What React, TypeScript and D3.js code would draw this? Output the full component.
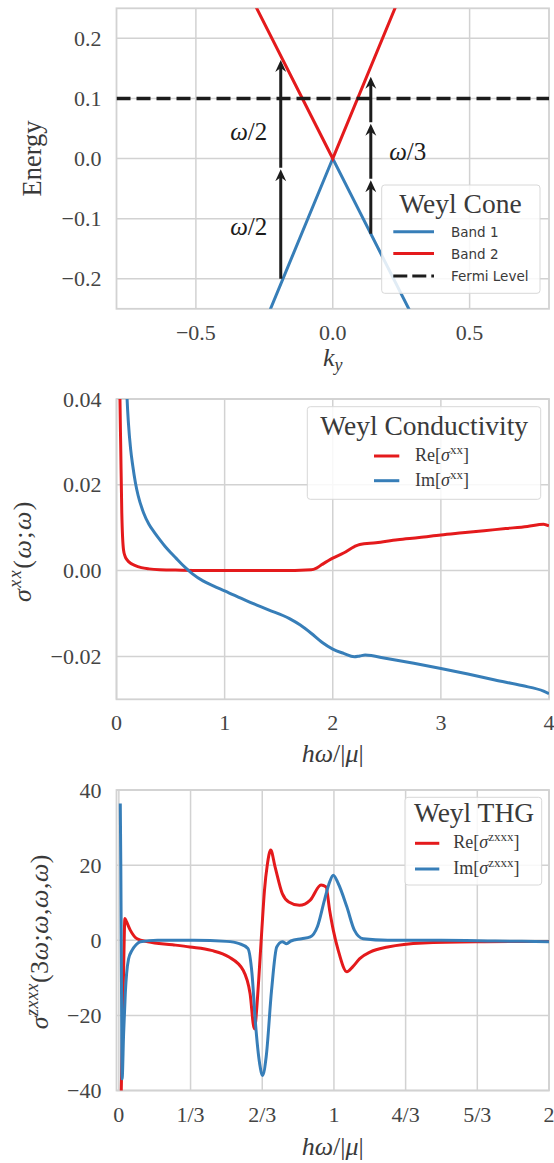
import React from 'react';
import * as d3 from 'd3';

const W = 554;
const H = 1163;
const RED = '#e41a1c';
const BLUE = '#377eb8';
const INK = '#1c1c1c';
const GRID = '#d2d2d2';
const TXT = '#3a3a3a';
const SERIF = '"Liberation Serif", "Times New Roman", serif';
const SANS = '"DejaVu Sans", sans-serif';

// ---- panel 1: Weyl cone (k_y vs energy)
const coneK = [-0.8, 0, 0.8];
const band1E = [-0.88, 0, -0.72];
const band2E = [0.72, 0, 0.88];
const fermiE = 0.1;
const arrowLeftK = -0.19;
const arrowLeftE = [-0.2, -0.018, 0.164];
const arrowRightK = 0.139;
const arrowRightE = [-0.125, -0.036, 0.058, 0.136];
const omegaLabelK = [-0.307, -0.307, 0.274];
const omegaLabelE = [0.043, -0.115, 0.01];
const omegaLabelDen = ['2', '2', '3'];
const coneXTicks = [-0.5, 0, 0.5];
const coneYTicks = [-0.2, -0.1, 0, 0.1, 0.2];

// ---- panel 2: linear conductivity
const sigReX = [0.03, 0.032, 0.039, 0.049, 0.065, 0.08, 0.098, 0.13, 0.163, 0.23, 0.3, 0.4, 0.6, 1.0, 1.5, 1.8,
  1.85, 1.9, 2.0, 2.1, 2.2, 2.25, 2.4, 2.6, 2.8, 3.0, 3.2, 3.4, 3.6, 3.8, 3.95, 4.0];
const sigReY = [0.045, 0.04, 0.029, 0.0134, 0.0048, 0.0033, 0.0025, 0.0017, 0.0013, 0.0007, 0.0004, 0.0002, 0.0001,
  0.0, 0.0, 0.0002, 0.0006, 0.0014, 0.0029, 0.0041, 0.0056, 0.0061, 0.0065, 0.0072, 0.0077, 0.0083, 0.0088,
  0.0093, 0.0098, 0.0103, 0.0108, 0.0104];
const sigImX = [0.085, 0.098, 0.11, 0.13, 0.15, 0.175, 0.2, 0.25, 0.3, 0.35, 0.4, 0.45, 0.5, 0.55, 0.6, 0.65, 0.7,
  0.8, 0.9, 1.0, 1.2, 1.4, 1.6, 1.7, 1.8, 1.9, 2.0, 2.1, 2.2, 2.25, 2.3, 2.5, 2.75, 3.0, 3.25, 3.5, 3.75, 3.95, 4.0];
const sigImY = [0.05, 0.04, 0.0345, 0.0285, 0.0245, 0.0205, 0.0175, 0.0135, 0.0108, 0.0089, 0.0072, 0.0056, 0.0042,
  0.0029, 0.0016, 0.0004, -0.0007, -0.0024, -0.0036, -0.0047, -0.007, -0.0091, -0.0112, -0.0127, -0.0146, -0.0167,
  -0.0183, -0.0193, -0.0201, -0.0199, -0.0197, -0.0205, -0.0216, -0.0228, -0.0241, -0.0255, -0.0268, -0.0281,
  -0.0287];
const sigXTicks = [0, 1, 2, 3, 4];
const sigYTicks = [-0.02, 0, 0.02, 0.04];

// ---- panel 3: third harmonic generation
const thgReX = [0.011, 0.018, 0.023, 0.028, 0.035, 0.053, 0.085, 0.135, 0.25, 0.33, 0.43, 0.51, 0.578, 0.61, 0.63,
  0.645, 0.652, 0.665, 0.677, 0.69, 0.706, 0.726, 0.76, 0.79, 0.84, 0.89, 0.94, 0.963, 0.98, 0.997, 1.02, 1.06,
  1.087, 1.12, 1.17, 1.25, 1.415, 1.7, 2.0];
const thgReY = [-40.5, -20, -5, 5.8, 5, 2.7, 0.4, -0.4, -1.2, -1.8, -2.7, -4.4, -8, -14.2, -23.6, -15, -8.9, 3, 13.3,
  20, 24, 19.6, 12.4, 10.2, 9.3, 10.7, 14.7, 14.2, 8, 2.7, -2.7, -8.4, -7.1, -4.9, -3.1, -1.8, -0.7, -0.4, -0.3];
const thgImX = [0.0066, 0.009, 0.012, 0.015, 0.022, 0.03, 0.036, 0.045, 0.061, 0.08, 0.1, 0.18, 0.35, 0.5, 0.56,
  0.6, 0.619, 0.635, 0.655, 0.668, 0.685, 0.71, 0.734, 0.76, 0.78, 0.8, 0.85, 0.89, 0.923, 0.956, 0.98, 0.997,
  1.02, 1.06, 1.095, 1.136, 1.25, 1.5, 1.75, 2.0];
const thgImY = [36.4, 20, -10, -36.9, -25, -14, -8.9, -5, -2.7, -1.2, -0.4, 0, 0, -0.3, -0.9, -2.2, -8.9, -22, -33,
  -36, -31, -13.3, -1.8, -0.4, -0.9, -0.2, 0.4, 0.9, 3.6, 10.7, 15.5, 17.3, 15.1, 8.9, 2.7, 0.4, 0, 0, -0.2, -0.4];
const thgXTicks = [0, 1 / 3, 2 / 3, 1, 4 / 3, 5 / 3, 2];
const thgXTickLabels = ['0', '1/3', '2/3', '1', '4/3', '5/3', '2'];
const thgYTicks = [-40, -20, 0, 20, 40];

const LEFT = 116.5;
const RIGHT = 549;

function Frame({ xs, ys, xTicks, xLabels, yTicks, yLabels, xTickY }: any) {
  const [x0, x1] = xs.range();
  const [yb, yt] = ys.range();
  return (
    <g>
      {xTicks.map((t: number, i: number) => (
        <line key={'gx' + i} x1={xs(t)} x2={xs(t)} y1={yt} y2={yb} stroke={GRID} strokeWidth={1.5} />
      ))}
      {yTicks.map((t: number, i: number) => (
        <line key={'gy' + i} x1={x0} x2={x1} y1={ys(t)} y2={ys(t)} stroke={GRID} strokeWidth={1.5} />
      ))}
      <rect x={x0} y={yt} width={x1 - x0} height={yb - yt} fill="none" stroke={GRID} strokeWidth={1.8} />
      {xTicks.map((t: number, i: number) => (
        <text key={'lx' + i} x={xs(t)} y={xTickY} textAnchor="middle" fontFamily={SERIF} fontSize={22} fill="#444">
          {xLabels[i]}
        </text>
      ))}
      {yTicks.map((t: number, i: number) => (
        <text key={'ly' + i} x={101.5} y={ys(t) + 7.5} textAnchor="end" fontFamily={SERIF} fontSize={22} fill="#444">
          {yLabels[i]}
        </text>
      ))}
    </g>
  );
}

function Legend({ box, title, titleX, titleY, lineX, textX, rows, labelFont, labelSize }: any) {
  return (
    <g>
      <rect x={box[0]} y={box[1]} width={box[2] - box[0]} height={box[3] - box[1]} rx={3}
        fill="#ffffff" fillOpacity={0.85} stroke="#d8d8d8" strokeWidth={1} />
      <text x={titleX} y={titleY} textAnchor="middle" fontFamily={SERIF} fontSize={27.5} fill={TXT}>{title}</text>
      {rows.map((r: any, i: number) => (
        <g key={i}>
          <line x1={lineX[0]} x2={lineX[1]} y1={r.y} y2={r.y} stroke={r.color} strokeWidth={3}
            strokeDasharray={r.dash || null} />
          <text x={textX} y={r.y + 5} fontFamily={labelFont} fontSize={labelSize} fill={TXT}>{r.label}</text>
        </g>
      ))}
    </g>
  );
}

function sigmaLegendLabel(part: string, sup: string) {
  return (
    <>
      <tspan>{part}[</tspan>
      <tspan fontStyle="italic">σ</tspan>
      <tspan dy={-7} fontSize={13}>{sup}</tspan>
      <tspan dy={7}>]</tspan>
    </>
  );
}

function arrowHead(x: number, y: number) {
  return `M${x},${y} L${x - 5.5},${y + 12} L${x},${y + 8} L${x + 5.5},${y + 12} Z`;
}

function ArrowChain({ xs, ys, k, es }: any) {
  const x = xs(k);
  const segs = [];
  for (let i = 0; i < es.length - 1; i++) {
    const ya = ys(es[i]);
    const yb = ys(es[i + 1]);
    segs.push(
      <g key={i}>
        <line x1={x} x2={x} y1={i === 0 ? ya : ya - 1.5} y2={yb + 6} stroke={INK} strokeWidth={3} />
        <path d={arrowHead(x, yb)} fill={INK} />
      </g>
    );
  }
  return <g>{segs}</g>;
}

export default function App() {
  // panel 1 scales
  const x1s = d3.scaleLinear().domain([-0.79, 0.79]).range([LEFT, RIGHT]);
  const y1s = d3.scaleLinear().domain([-0.25, 0.25]).range([308.8, 8.3]);
  // panel 2 scales
  const x2s = d3.scaleLinear().domain([0, 4]).range([LEFT, RIGHT]);
  const y2s = d3.scaleLinear().domain([-0.03, 0.04]).range([699.3, 399]);
  // panel 3 scales
  const x3s = d3.scaleLinear().domain([-0.011, 2]).range([LEFT, RIGHT]);
  const y3s = d3.scaleLinear().domain([-40, 40]).range([1090.5, 790]);

  const f1 = d3.format('.1f');
  const f2 = d3.format('.2f');

  const line1 = d3.line<number>().x((_, i) => x1s(coneK[i]));
  const band1Path = line1.y((d) => y1s(d))(band1E) as string;
  const band2Path = line1.y((d) => y1s(d))(band2E) as string;

  const mk = (xs: any, ys: any, X: number[], Y: number[]) =>
    d3.line<number>().x((_, i) => xs(X[i])).y((d) => ys(d)).curve(d3.curveMonotoneX)(Y) as string;

  const reSig = mk(x2s, y2s, sigReX, sigReY);
  const imSig = mk(x2s, y2s, sigImX, sigImY);
  const reThg = mk(x3s, y3s, thgReX, thgReY);
  const imThg = mk(x3s, y3s, thgImX, thgImY);

  const mid = (LEFT + RIGHT) / 2;

  return (
    <svg width={W} height={H} style={{ position: 'absolute', left: 0, top: 0, background: '#fff' }}>
      <defs>
        <clipPath id="c1"><rect x={LEFT} y={8.3} width={RIGHT - LEFT} height={308.8 - 8.3} /></clipPath>
        <clipPath id="c2"><rect x={LEFT} y={399} width={RIGHT - LEFT} height={699.3 - 399} /></clipPath>
        <clipPath id="c3"><rect x={LEFT} y={790} width={RIGHT - LEFT} height={1090.5 - 790} /></clipPath>
      </defs>
      <rect x={0} y={0} width={W} height={H} fill="#fff" />

      {/* ---------- panel 1 ---------- */}
      <Frame xs={x1s} ys={y1s} xTicks={coneXTicks} xLabels={coneXTicks.map(f1)} yTicks={coneYTicks}
        yLabels={coneYTicks.map(f1)} xTickY={340} />
      <g clipPath="url(#c1)">
        <path d={band1Path} fill="none" stroke={BLUE} strokeWidth={3} />
        <path d={band2Path} fill="none" stroke={RED} strokeWidth={3} />
        <line x1={LEFT} x2={RIGHT} y1={y1s(fermiE)} y2={y1s(fermiE)} stroke={INK} strokeWidth={3.5}
          strokeDasharray="14,6" />
        <ArrowChain xs={x1s} ys={y1s} k={arrowLeftK} es={arrowLeftE} />
        <ArrowChain xs={x1s} ys={y1s} k={arrowRightK} es={arrowRightE} />
      </g>
      {omegaLabelK.map((k, i) => (
        <text key={'om' + i} x={x1s(k)} y={y1s(omegaLabelE[i]) + 7} textAnchor="middle" fontFamily={SERIF}
          fontSize={25} fill={INK}>
          <tspan fontStyle="italic">ω</tspan>/{omegaLabelDen[i]}
        </text>
      ))}
      <Legend box={[381.7, 185, 540, 293.3]} title="Weyl Cone" titleX={460.5} titleY={213}
        lineX={[393.3, 434]} textX={451} labelFont={SANS} labelSize={13.5}
        rows={[
          { y: 231.7, color: BLUE, label: 'Band 1' },
          { y: 253.5, color: RED, label: 'Band 2' },
          { y: 276, color: INK, label: 'Fermi Level', dash: '14,5' },
        ]} />
      <text x={mid} y={366} textAnchor="middle" fontFamily={SERIF} fontSize={26} fill={TXT}>
        <tspan fontStyle="italic">k</tspan>
        <tspan fontStyle="italic" fontSize={18} dy={5}>y</tspan>
      </text>
      <text transform="translate(41,158.5) rotate(-90)" textAnchor="middle" fontFamily={SERIF} fontSize={26.5}
        fill={TXT}>Energy</text>

      {/* ---------- panel 2 ---------- */}
      <Frame xs={x2s} ys={y2s} xTicks={sigXTicks} xLabels={sigXTicks.map(String)} yTicks={sigYTicks}
        yLabels={sigYTicks.map(f2)} xTickY={730} />
      <g clipPath="url(#c2)">
        <path d={reSig} fill="none" stroke={RED} strokeWidth={3} strokeLinejoin="round" />
        <path d={imSig} fill="none" stroke={BLUE} strokeWidth={3} strokeLinejoin="round" />
      </g>
      <Legend box={[307.3, 406.7, 540.7, 499.3]} title="Weyl Conductivity" titleX={424.2} titleY={435}
        lineX={[374, 399.3]} textX={415} labelFont={SERIF} labelSize={18}
        rows={[
          { y: 456, color: RED, label: sigmaLegendLabel('Re', 'xx') },
          { y: 480.7, color: BLUE, label: sigmaLegendLabel('Im', 'xx') },
        ]} />
      <text x={mid} y={761.5} textAnchor="middle" fontFamily={SERIF} fontSize={26} fill={TXT}>
        <tspan fontStyle="italic">hω</tspan>/|<tspan fontStyle="italic">μ</tspan>|
      </text>
      <text transform="translate(31,551) rotate(-90)" textAnchor="middle" fontFamily={SERIF} fontSize={26}
        fill={TXT} letterSpacing={1.5}>
        <tspan fontStyle="italic">σ</tspan>
        <tspan fontStyle="italic" fontSize={18} dy={-10}>xx</tspan>
        <tspan dy={10}>(</tspan>
        <tspan fontStyle="italic">ω</tspan>;<tspan fontStyle="italic">ω</tspan>)
      </text>

      {/* ---------- panel 3 ---------- */}
      <Frame xs={x3s} ys={y3s} xTicks={thgXTicks} xLabels={thgXTickLabels} yTicks={thgYTicks}
        yLabels={thgYTicks.map(d3.format('d'))} xTickY={1121.7} />
      <g clipPath="url(#c3)">
        <path d={reThg} fill="none" stroke={RED} strokeWidth={3} strokeLinejoin="round" />
        <path d={imThg} fill="none" stroke={BLUE} strokeWidth={3} strokeLinejoin="round" />
      </g>
      <Legend box={[405, 797.3, 541.7, 885]} title="Weyl THG" titleX={474} titleY={821.7}
        lineX={[415, 439.3]} textX={453.3} labelFont={SERIF} labelSize={18}
        rows={[
          { y: 843.3, color: RED, label: sigmaLegendLabel('Re', 'zxxx') },
          { y: 869, color: BLUE, label: sigmaLegendLabel('Im', 'zxxx') },
        ]} />
      <text x={mid} y={1155} textAnchor="middle" fontFamily={SERIF} fontSize={26} fill={TXT}>
        <tspan fontStyle="italic">hω</tspan>/|<tspan fontStyle="italic">μ</tspan>|
      </text>
      <text transform="translate(47.5,941.7) rotate(-90)" textAnchor="middle" fontFamily={SERIF} fontSize={26}
        fill={TXT} letterSpacing={0.5}>
        <tspan fontStyle="italic">σ</tspan>
        <tspan fontStyle="italic" fontSize={18} dy={-10}>zxxx</tspan>
        <tspan dy={10}>(3</tspan>
        <tspan fontStyle="italic">ω</tspan>;<tspan fontStyle="italic">ω</tspan>,<tspan fontStyle="italic">ω</tspan>,
        <tspan fontStyle="italic">ω</tspan>)
      </text>
    </svg>
  );
}
